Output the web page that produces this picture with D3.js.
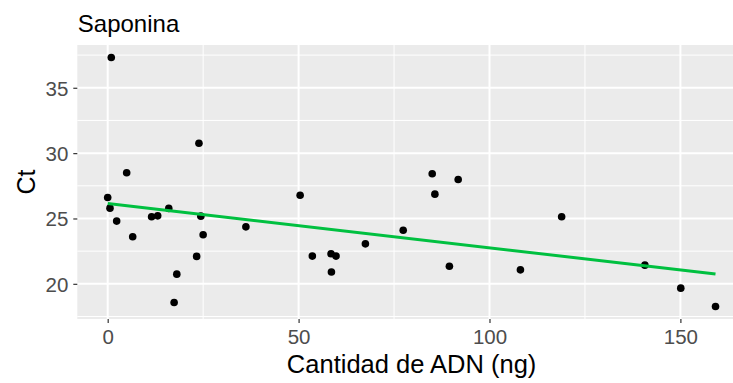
<!DOCTYPE html>
<html>
<head>
<meta charset="utf-8">
<script src="https://cdn.jsdelivr.net/npm/d3@7"></script>
<style>
  html, body { margin: 0; padding: 0; background: #fff; }
  svg { display: block; font-family: "Liberation Sans", Arial, sans-serif; }
</style>
</head>
<body>
<svg id="chart" width="733" height="383"></svg>
<script>
// ---- Data ----
const title = "Saponina";
const xLabel = "Cantidad de ADN (ng)";
const yLabel = "Ct";
const dnaAmount = [0.94, 0, 0.6, 2.35, 4.97, 6.55, 11.5, 13.1, 16.0, 18.1, 17.4, 23.3, 23.9, 24.4, 25.0, 36.2,
                   50.4, 53.6, 58.5, 59.8, 58.6, 67.5, 77.4, 85.0, 91.8, 85.7, 89.5,
                   108.1, 118.9, 140.7, 150.1, 159.2];
const ctValue   = [37.32, 26.6, 25.79, 24.8, 28.5, 23.6, 25.13, 25.2, 25.77, 20.74, 18.57, 22.1, 30.76, 25.18, 23.75, 24.36,
                   26.78, 22.12, 22.3, 22.12, 20.9, 23.06, 24.1, 28.42, 27.98, 26.86, 21.35,
                   21.07, 25.13, 21.43, 19.67, 18.26];
const xTicks = [0, 50, 100, 150];
const xMinor = [25, 75, 125];
const yTicks = [20, 25, 30, 35];
const yMinor = [17.5, 22.5, 27.5, 32.5, 37.5];

const points = dnaAmount.map((x, i) => ({ x, y: ctValue[i] }));

// ---- Layout ----
const svg = d3.select("#chart");
const panelLeft = 77.3, panelTop = 45;
const pxPerX = 3.818, pxPerY = 13.07;

const xExt = d3.extent(dnaAmount), yExt = d3.extent(ctValue);
const xPad = (xExt[1] - xExt[0]) * 0.05, yPad = (yExt[1] - yExt[0]) * 0.05;
const xDom = [xExt[0] - xPad, xExt[1] + xPad];
const yDom = [yExt[0] - yPad, yExt[1] + yPad];
const panelW = (xDom[1] - xDom[0]) * pxPerX;
const panelH = (yDom[1] - yDom[0]) * pxPerY;

const x = d3.scaleLinear().domain(xDom).range([panelLeft, panelLeft + panelW]);
const y = d3.scaleLinear().domain(yDom).range([panelTop + panelH, panelTop]);

// Panel background
svg.append("rect")
  .attr("x", panelLeft).attr("y", panelTop)
  .attr("width", panelW).attr("height", panelH)
  .attr("fill", "#EBEBEB");

const grid = svg.append("g");
// minor grid
grid.selectAll(".xm").data(xMinor).join("line")
  .attr("x1", d => x(d)).attr("x2", d => x(d))
  .attr("y1", panelTop).attr("y2", panelTop + panelH)
  .attr("stroke", "#fff").attr("stroke-width", 1);
grid.selectAll(".ym").data(yMinor).join("line")
  .attr("y1", d => y(d)).attr("y2", d => y(d))
  .attr("x1", panelLeft).attr("x2", panelLeft + panelW)
  .attr("stroke", "#fff").attr("stroke-width", 1);
// major grid
grid.selectAll(".xM").data(xTicks).join("line")
  .attr("x1", d => x(d)).attr("x2", d => x(d))
  .attr("y1", panelTop).attr("y2", panelTop + panelH)
  .attr("stroke", "#fff").attr("stroke-width", 2);
grid.selectAll(".yM").data(yTicks).join("line")
  .attr("y1", d => y(d)).attr("y2", d => y(d))
  .attr("x1", panelLeft).attr("x2", panelLeft + panelW)
  .attr("stroke", "#fff").attr("stroke-width", 2);

// Axes
const xAxis = d3.axisBottom(x).tickValues(xTicks).tickSize(4).tickPadding(6).tickSizeOuter(0);
const yAxis = d3.axisLeft(y).tickValues(yTicks).tickSize(4).tickPadding(5).tickSizeOuter(0);

const gx = svg.append("g").attr("transform", `translate(0,${panelTop + panelH})`).call(xAxis);
const gy = svg.append("g").attr("transform", `translate(${panelLeft},0)`).call(yAxis);
[gx, gy].forEach(g => {
  g.select(".domain").remove();
  g.selectAll(".tick line").attr("stroke", "#333333").attr("stroke-width", 1.2);
  g.selectAll(".tick text").attr("fill", "#4D4D4D").style("font-size", "20.5px")
    .style("font-family", "'Liberation Sans', Arial, sans-serif");
});
gx.selectAll(".tick text").attr("dy", "0.75em");
gy.selectAll(".tick text").attr("dy", "0.36em");

// Regression line (least squares over the data)
const mx = d3.mean(dnaAmount), my = d3.mean(ctValue);
const slope = d3.sum(points, p => (p.x - mx) * (p.y - my)) / d3.sum(points, p => (p.x - mx) ** 2);
const intercept = my - slope * mx;
const fit = xExt.map(v => ({ x: v, y: intercept + slope * v }));

// Points
svg.append("g").selectAll("circle").data(points).join("circle")
  .attr("cx", d => x(d.x)).attr("cy", d => y(d.y)).attr("r", 3.8)
  .attr("fill", "#000");

svg.append("path").datum(fit)
  .attr("d", d3.line().x(d => x(d.x)).y(d => y(d.y)))
  .attr("fill", "none").attr("stroke", "#00C040").attr("stroke-width", 3);

// Titles
svg.append("text").attr("x", panelLeft + 0.5).attr("y", 31.5)
  .attr("fill", "#000").style("font-size", "24px").text(title);

svg.append("text").attr("x", x(xDom[0] + (xDom[1] - xDom[0]) / 2)).attr("y", 373)
  .attr("text-anchor", "middle").attr("fill", "#000").style("font-size", "25.5px").text(xLabel);

svg.append("text")
  .attr("transform", `translate(35,${panelTop + panelH / 2}) rotate(-90)`)
  .attr("text-anchor", "middle").attr("fill", "#000").style("font-size", "25px").text(yLabel);
</script>
</body>
</html>
